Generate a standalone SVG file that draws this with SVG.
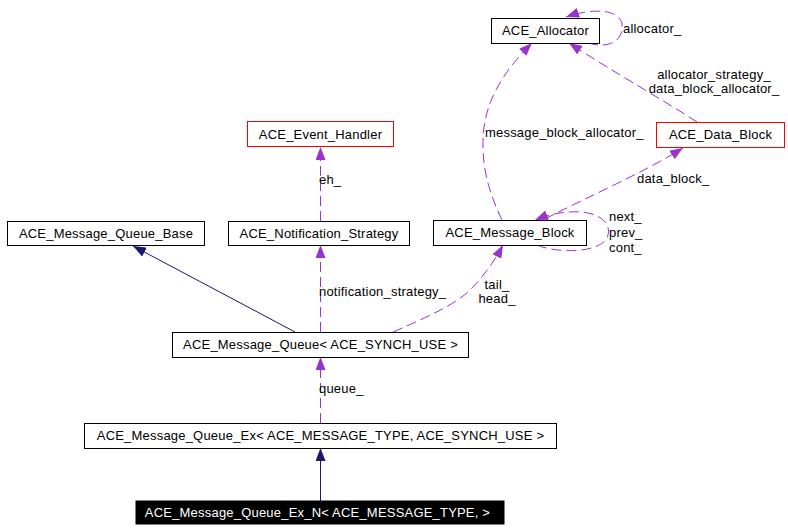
<svg xmlns="http://www.w3.org/2000/svg" width="788" height="532" viewBox="0 0 788 532">
<style>
.n rect{fill:#fff;stroke:#000;stroke-width:1}
.n.red rect{stroke:#ff0000}
.n.blk rect{fill:#000}
text{font-family:"Liberation Sans",Arial,sans-serif;font-size:13px;fill:#000;letter-spacing:0.2px}
.n text{text-anchor:middle}
.n.blk text{fill:#fff}
.e{fill:none;stroke-width:1}
.u{stroke:#9a32cd;stroke-dasharray:10,5}
.i{stroke:#191970}
.c{text-anchor:middle}
</style>
<defs>
<marker id="ap" markerUnits="userSpaceOnUse" markerWidth="13" markerHeight="10" refX="13" refY="5" orient="auto"><path d="M0,0 L13,5 L0,10 z" fill="#9a32cd"/></marker>
<marker id="an" markerUnits="userSpaceOnUse" markerWidth="13" markerHeight="10" refX="13" refY="5" orient="auto"><path d="M0,0 L13,5 L0,10 z" fill="#191970"/></marker>
</defs>
<rect width="788" height="532" fill="#fff"/>
<g id="edges">
<path class="e i" d="M320.5,501 L320.5,448" marker-end="url(#an)"/>
<path class="e u" d="M320.5,423 L320.5,357" marker-end="url(#ap)"/>
<path class="e i" d="M295,332 L133,246" marker-end="url(#an)"/>
<path class="e u" d="M320.5,332 L320.5,245" marker-end="url(#ap)"/>
<path class="e u" d="M320.5,221 L320.5,147" marker-end="url(#ap)"/>
<path class="e u" d="M393,332 C425,318 455,305 470,290 C485,275 495,260 503,245" marker-end="url(#ap)"/>
<path class="e u" d="M502,220 C490,195 482,170 483,140 C484,100 505,70 532,43" marker-end="url(#ap)"/>
<path class="e u" d="M545,219 C585,198 645,172 683,148" marker-end="url(#ap)"/>
<path class="e u" d="M537,245 C555,253 598,254 607,238 C613,224 600,213 580,212 C565,211 550,214 535,220" marker-end="url(#ap)"/>
<path class="e u" d="M697,122 C660,98 610,70 569,43" marker-end="url(#ap)"/>
<path class="e u" d="M588,43 C612,50 624,38 622,24 C620,10 595,7 566,17" marker-end="url(#ap)"/>
<text x="319" y="393">queue_</text>
<text x="319" y="296">notification_strategy_</text>
<text x="319" y="184">eh_</text>
<text x="497" y="289" class="c">tail_</text>
<text x="497" y="303" class="c">head_</text>
<text x="485" y="137">message_block_allocator_</text>
<text x="637" y="183">data_block_</text>
<text x="609" y="221">next_</text>
<text x="609" y="237">prev_</text>
<text x="609" y="252">cont_</text>
<text x="714" y="79" class="c">allocator_strategy_</text>
<text x="714" y="93" class="c">data_block_allocator_</text>
<text x="623" y="33">allocator_</text>
</g>
<g id="ACE_Allocator" class="n"><rect x="491.5" y="18.5" width="108" height="25"/><text x="545.5" y="35">ACE_Allocator</text></g>
<g id="ACE_Data_Block" class="n red"><rect x="656.5" y="122.5" width="128" height="25" stroke="#ff0000"/><text x="720.5" y="139">ACE_Data_Block</text></g>
<g id="ACE_Event_Handler" class="n red"><rect x="247.5" y="121.5" width="146" height="25" stroke="#ff0000"/><text x="320.5" y="139">ACE_Event_Handler</text></g>
<g id="ACE_Message_Queue_Base" class="n"><rect x="7.5" y="221.5" width="197" height="24"/><text x="106" y="238">ACE_Message_Queue_Base</text></g>
<g id="ACE_Notification_Strategy" class="n"><rect x="228.5" y="221.5" width="181" height="24"/><text x="319" y="238">ACE_Notification_Strategy</text></g>
<g id="ACE_Message_Block" class="n"><rect x="433.5" y="220.5" width="153" height="25"/><text x="510" y="237">ACE_Message_Block</text></g>
<g id="ACE_Message_Queue" class="n"><rect x="172.5" y="332.5" width="296" height="25"/><text x="320.5" y="349">ACE_Message_Queue&lt; ACE_SYNCH_USE &gt;</text></g>
<g id="ACE_Message_Queue_Ex" class="n"><rect x="84.5" y="423.5" width="472" height="25"/><text x="320.5" y="440">ACE_Message_Queue_Ex&lt; ACE_MESSAGE_TYPE, ACE_SYNCH_USE &gt;</text></g>
<g id="ACE_Message_Queue_Ex_N" class="n blk"><rect x="136" y="501" width="368" height="23"/><text x="317.5" y="517">ACE_Message_Queue_Ex_N&lt; ACE_MESSAGE_TYPE, &gt;</text></g>
</svg>
